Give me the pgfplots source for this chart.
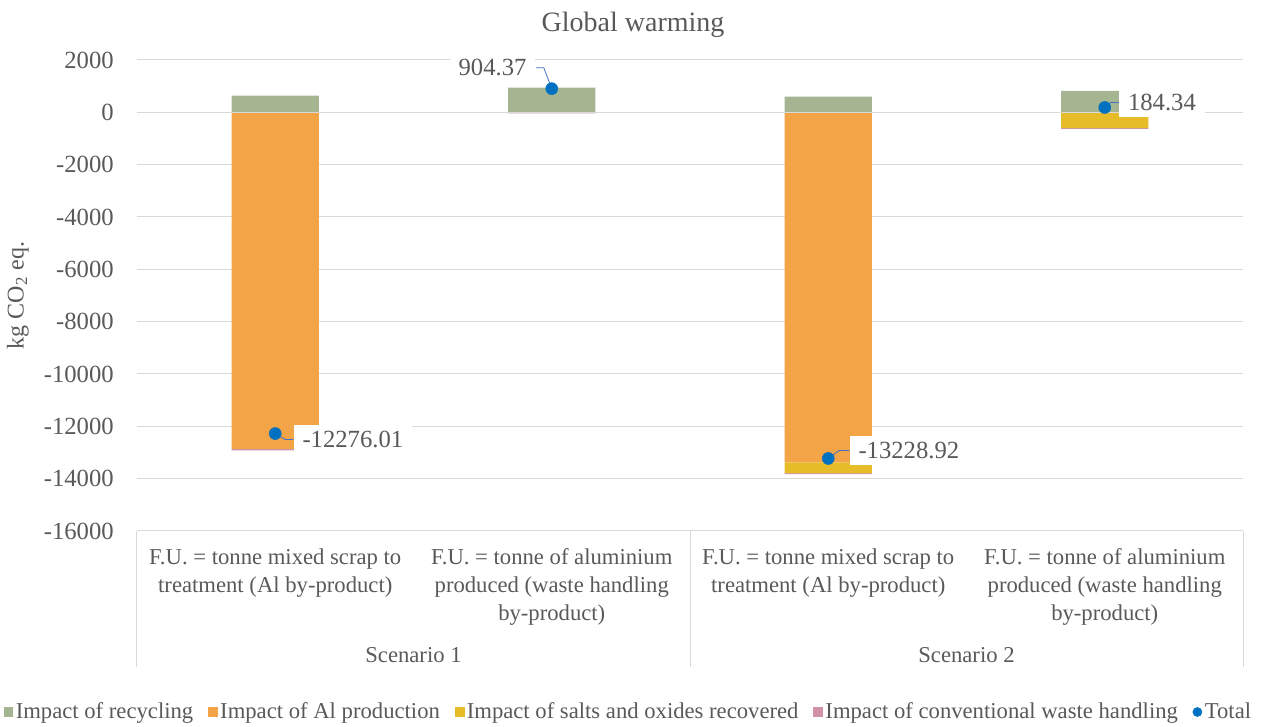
\documentclass[border=0pt]{standalone}
\usepackage{pgfplots}
\usepackage{pgfplotstable}
\pgfplotsset{compat=1.18}
\usepackage{fontspec}
\setmainfont{Liberation Serif}

\definecolor{recyc}{HTML}{A5B592}
\definecolor{alprod}{HTML}{F3A447}
\definecolor{salts}{HTML}{E7BC29}
\definecolor{conv}{HTML}{D092A7}
\definecolor{total}{HTML}{0070C0}
\definecolor{leader}{HTML}{4472C4}
\definecolor{gridc}{HTML}{D9D9D9}
\definecolor{txt}{HTML}{595959}

% Global warming impact per functional unit (kg CO2 eq.)
\pgfplotstableread{
x rec al salts conv total
0 640 -12860 0 -56.01 -12276.01
1 940 0 0 -35.63 904.37
2 600 -13380 -410 -38.92 -13228.92
3 820 0 -600 -35.66 184.34
}\gwdata

\pgfplotsset{
  base/.style={
    scale only axis, width=829.5pt, height=353.25pt,
    xmin=-0.5, xmax=3.5, ymin=-16000, ymax=2000,
    at={(0pt,0pt)}, anchor=south west,
  },
  sq/.style={legend image code/.code={\fill[#1] (0pt,-3.4pt) rectangle (6.8pt,3.4pt);}},
  dot/.style={legend image code/.code={\fill[total] (3.4pt,0pt) circle (3.4pt);}},
}
\tikzset{
  lab/.style={fill=white, text=txt, font=\fontsize{18.5}{22}\selectfont,
    inner xsep=6.75pt, inner ysep=4.5pt},
}

\begin{document}
\begin{tikzpicture}
\useasboundingbox (-102.75pt,-147pt) rectangle (846.75pt,398.25pt);

% frame, grid, labels, recycling bars and legend
\begin{axis}[base,
  axis line style={draw=none},
  major tick length=0pt,
  scaled y ticks=false,
  ytick={-16000,-14000,...,2000},
  yticklabels={-16000,-14000,-12000,-10000,-8000,-6000,-4000,-2000,0,2000},
  yticklabel style={font=\fontsize{18.5}{22}\selectfont, text=txt, inner sep=0pt, xshift=-17.25pt},
  xtick={0,1,2,3},
  xticklabels={{F.U. = tonne mixed scrap to\\treatment (Al by-product)},
               {F.U. = tonne of aluminium\\produced (waste handling\\by-product)},
               {F.U. = tonne mixed scrap to\\treatment (Al by-product)},
               {F.U. = tonne of aluminium\\produced (waste handling\\by-product)}},
  xticklabel style={font=\fontsize{17}{21}\selectfont, text=txt, align=center,
    anchor=north, inner sep=0pt, yshift=-13pt},
  ymajorgrids,
  grid style={gridc, line width=0.75pt},
  ylabel={kg CO\textsubscript{2} eq.},
  every axis y label/.style={at={(axis description cs:-0.1076,0.5)}, rotate=90,
    anchor=center, font=\fontsize{18}{22}\selectfont, text=txt},
  legend columns=-1,
  legend style={at={(axis description cs:0.4448,-0.3843)}, anchor=center,
    draw=none, fill=none, font=\fontsize{17}{20}\selectfont, text=txt,
    /tikz/every even column/.append style={column sep=9pt}},
  clip=false,
]
\addplot[ybar, bar width=0.315, bar shift=0pt, fill=recyc, draw=none, sq=recyc]
  table[x=x, y=rec] {\gwdata};
\addlegendentry{Impact of recycling}
\addlegendimage{sq=alprod}
\addlegendentry{Impact of Al production}
\addlegendimage{sq=salts}
\addlegendentry{Impact of salts and oxides recovered}
\addlegendimage{sq=conv}
\addlegendentry{Impact of conventional waste handling}
\addlegendimage{dot}
\addlegendentry{Total}

% scenario separators below the category axis
\draw[gridc, line width=0.75pt] (rel axis cs:0,0) -- ++(0pt,-102pt);
\draw[gridc, line width=0.75pt] (rel axis cs:0.5,0) -- ++(0pt,-102pt);
\draw[gridc, line width=0.75pt] (rel axis cs:1,0) -- ++(0pt,-102pt);
\node[font=\fontsize{17}{21}\selectfont, text=txt] at ([yshift=-93pt]rel axis cs:0.25,0) {Scenario 1};
\node[font=\fontsize{17}{21}\selectfont, text=txt] at ([yshift=-93pt]rel axis cs:0.75,0) {Scenario 2};
\end{axis}

% negative contributions, stacked downwards
\begin{axis}[base, hide axis, ybar stacked, bar width=0.315]
\addplot[fill=alprod, draw=none] table[x=x, y=al] {\gwdata};
\addplot[fill=salts, draw=none] table[x=x, y=salts] {\gwdata};
\addplot[fill=conv, draw=none] table[x=x, y=conv] {\gwdata};
\end{axis}

% zero line, totals and their labels
\begin{axis}[base, hide axis, clip=false]
\addplot[gridc, line width=0.75pt] coordinates {(-0.5,0) (3.5,0)};

\draw[leader, line width=0.6pt] (axis cs:0,-12276.01) -- ++(7.5pt,-4.5pt) -- ++(6pt,0pt);
\node[lab, anchor=west] at ([xshift=13.5pt, yshift=-4.5pt]axis cs:0,-12276.01) {-12276.01};

\draw[leader, line width=0.6pt] (axis cs:1,904.37) -- ++(-6pt,15.75pt) -- ++(-6pt,0pt);
\node[lab, anchor=east] at ([xshift=-12pt, yshift=15.75pt]axis cs:1,904.37) {904.37};

\draw[leader, line width=0.6pt] (axis cs:2,-13228.92) -- ++(8.25pt,6pt) -- ++(7.5pt,0pt);
\node[lab, anchor=west] at ([xshift=15.75pt, yshift=6pt]axis cs:2,-13228.92) {-13228.92};

\draw[leader, line width=0.6pt] (axis cs:3,184.34) -- ++(4.5pt,3.75pt) -- ++(6pt,0pt);
\node[lab, anchor=west] at ([xshift=10.5pt, yshift=3.75pt]axis cs:3,184.34) {184.34};

\addplot[only marks, mark=*, mark size=4.5pt, mark options={fill=total, draw=total}]
  table[x=x, y=total] {\gwdata};
\end{axis}

\node[font=\fontsize{21}{25}\selectfont, text=txt] at (372pt,379.5pt) {Global warming};
\end{tikzpicture}
\end{document}
